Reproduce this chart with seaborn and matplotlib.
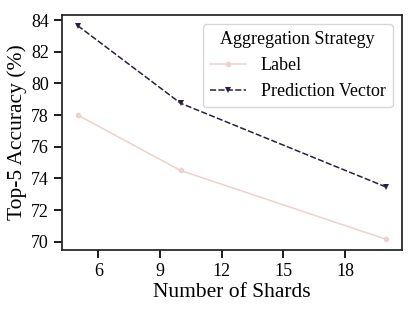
import matplotlib
matplotlib.use("Agg")
import matplotlib.pyplot as plt
import seaborn as sns
import pandas as pd

shards = [5, 10, 20]
label_acc = [78.0, 74.5, 70.15]
pred_acc = [83.65, 78.75, 73.45]
strategies = ["Label", "Prediction Vector"]

df = pd.DataFrame({
    "Number of Shards": shards * 2,
    "Top-5 Accuracy (%)": label_acc + pred_acc,
    "Aggregation Strategy": [strategies[0]] * 3 + [strategies[1]] * 3,
})

sns.set_theme(style="ticks")
plt.rcParams["font.family"] = ["Liberation Serif", "DejaVu Serif"]
plt.rcParams.update({
    "text.color": "black", "axes.labelcolor": "black",
    "xtick.color": "black", "ytick.color": "black",
    "xtick.labelcolor": "black", "ytick.labelcolor": "black",
    "axes.edgecolor": "#222222",
})

fig, ax = plt.subplots(figsize=(4.15, 3.11), dpi=100)
palette = sns.cubehelix_palette(2)
sns.lineplot(data=df, x="Number of Shards", y="Top-5 Accuracy (%)",
             hue="Aggregation Strategy", style="Aggregation Strategy",
             markers=["o", "v"], palette=palette, ax=ax,
             linewidth=1.1, markersize=4, markeredgewidth=0)
ax.set_xticks([6, 9, 12, 15, 18])
ax.set_yticks([70, 72, 74, 76, 78, 80, 82, 84])
ax.tick_params(labelsize=13)
ax.set_xlabel("Number of Shards", fontsize=15.5, labelpad=2)
ax.set_ylabel("Top-5 Accuracy (%)", fontsize=15.5, labelpad=3)
leg = ax.legend(title="Aggregation Strategy", fontsize=13, title_fontsize=13,
                loc="upper right", handlelength=2.0)
fig.subplots_adjust(left=0.15, right=0.968, top=0.952, bottom=0.196)
fig.savefig("out.png", dpi=100)
